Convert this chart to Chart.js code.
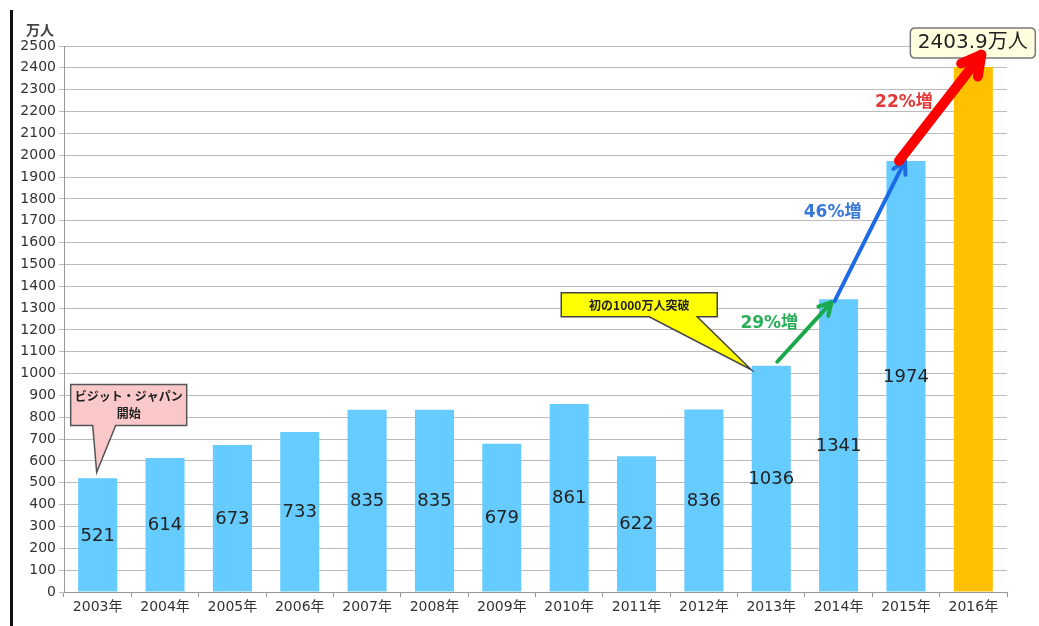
<!DOCTYPE html>
<html><head><meta charset="utf-8">
<script src="https://cdn.jsdelivr.net/npm/chart.js@4.4.0/dist/chart.umd.min.js"></script>
<style>
html,body{margin:0;padding:0;background:#fff;}
#wrap{position:relative;width:1039px;height:626px;}
#bar{position:absolute;left:10px;top:10px;width:3px;height:616px;background:#111;}
canvas{position:absolute;left:0;top:0;}
</style></head>
<body><div id="wrap"><div id="bar"></div><canvas id="c" width="1039" height="626"></canvas></div>
<script>
const categories = ['2003年','2004年','2005年','2006年','2007年','2008年','2009年','2010年','2011年','2012年','2013年','2014年','2015年','2016年'];
const visitors = [521,614,673,733,835,835,679,861,622,836,1036,1341,1974,2403.9];
const barColors = ['#66CCFF','#66CCFF','#66CCFF','#66CCFF','#66CCFF','#66CCFF','#66CCFF','#66CCFF','#66CCFF','#66CCFF','#66CCFF','#66CCFF','#66CCFF','#FFC000'];
const growthLabels = ['29%増','46%増','22%増'];
const unitLabel = '万人';
const totalLabel = '2403.9万人';
const callout1 = ['ビジット・ジャパン','開始'];
const callout2 = '初の1000万人突破';

const FONT = '"Noto Sans CJK JP", "Noto Sans", sans-serif';
const NUMFONT = '"DejaVu Sans", "Noto Sans CJK JP", sans-serif';

function arrow(ctx, x1, y1, x2, y2, color, w, head) {
  const a = Math.atan2(y2 - y1, x2 - x1);
  ctx.save();
  ctx.strokeStyle = color; ctx.lineWidth = w; ctx.lineCap = 'round'; ctx.lineJoin='round';
  ctx.beginPath(); ctx.moveTo(x1, y1); ctx.lineTo(x2, y2); ctx.stroke();
  ctx.beginPath();
  ctx.moveTo(x2 - head * Math.cos(a - 0.5), y2 - head * Math.sin(a - 0.5));
  ctx.lineTo(x2, y2);
  ctx.lineTo(x2 - head * Math.cos(a + 0.5), y2 - head * Math.sin(a + 0.5));
  ctx.stroke();
  ctx.restore();
}
function roundRect(ctx,x,y,w,h,r){ctx.beginPath();ctx.moveTo(x+r,y);ctx.lineTo(x+w-r,y);ctx.quadraticCurveTo(x+w,y,x+w,y+r);ctx.lineTo(x+w,y+h-r);ctx.quadraticCurveTo(x+w,y+h,x+w-r,y+h);ctx.lineTo(x+r,y+h);ctx.quadraticCurveTo(x,y+h,x,y+h-r);ctx.lineTo(x,y+r);ctx.quadraticCurveTo(x,y,x+r,y);ctx.closePath();}

const overlay = {
  id: 'overlay',
  afterDatasetsDraw(chart) {
    const ctx = chart.ctx;
    const bars = chart.getDatasetMeta(0).data;
    const ys = chart.scales.y;
    // value labels
    ctx.save();
    ctx.font = '18px ' + NUMFONT; ctx.fillStyle = '#222'; ctx.textAlign = 'center'; ctx.textBaseline = 'middle';
    for (let i = 0; i < visitors.length - 1; i++) {
      const b = bars[i];
      ctx.fillText(String(visitors[i]), b.x, (b.y + b.base) / 2 + 1);
    }
    ctx.restore();
    // unit label
    ctx.save();
    ctx.font = 'bold 14px ' + FONT; ctx.fillStyle = '#444'; ctx.textAlign='center'; ctx.textBaseline='middle';
    ctx.fillText(unitLabel, chart.chartArea.left - 24, ys.top - 16);
    ctx.restore();

    const b13 = bars[10], b14 = bars[11], b15 = bars[12], b16 = bars[13];
    // arrows
    arrow(ctx, b13.x + 6, b13.y - 4, b14.x - 7, b14.y + 3, '#19A84A', 4, 14);
    arrow(ctx, b14.x - 4, b14.y + 2, b15.x - 1, b15.y, '#1E6BE6', 4, 14);
    // growth labels
    ctx.save();
    ctx.font = 'bold 17px ' + NUMFONT; ctx.textAlign = 'center'; ctx.textBaseline = 'middle';
    ctx.fillStyle = '#2BAE5A'; ctx.fillText(growthLabels[0], b13.x - 2, ys.getPixelForValue(1230));
    ctx.fillStyle = '#3A78D8'; ctx.fillText(growthLabels[1], b14.x - 6, ys.getPixelForValue(1735));
    ctx.fillStyle = '#E53A3A'; ctx.fillText(growthLabels[2], b15.x - 2, ys.getPixelForValue(2240));
    ctx.restore();
    // total box
    ctx.save();
    const bx = b16.x - 63, by = ys.getPixelForValue(2582), bw = 125, bh = 30;
    roundRect(ctx, bx, by, bw, bh, 5);
    ctx.fillStyle = '#FFFFE0'; ctx.fill(); ctx.strokeStyle = '#777'; ctx.lineWidth = 1.5; ctx.stroke();
    ctx.font = '20px ' + NUMFONT; ctx.fillStyle = '#222'; ctx.textAlign = 'center'; ctx.textBaseline = 'middle';
    ctx.fillText(totalLabel, bx + bw / 2, by + bh / 2);
    ctx.restore();
    // red arrow over box
    arrow(ctx, b15.x - 7, b15.y, b16.x + 8, ys.getPixelForValue(2460), '#FF0000', 10, 22);

    // callout 1 (pink)
    ctx.save();
    const b03 = bars[0];
    const tipX = b03.x - 1, tipY = b03.y - 6;
    const c1x = b03.x - 27, c1y = ys.getPixelForValue(950), c1w = 116, c1h = 41;
    ctx.beginPath();
    ctx.moveTo(c1x, c1y); ctx.lineTo(c1x + c1w, c1y); ctx.lineTo(c1x + c1w, c1y + c1h);
    ctx.lineTo(b03.x + 18, c1y + c1h); ctx.lineTo(tipX, tipY); ctx.lineTo(b03.x - 5, c1y + c1h);
    ctx.lineTo(c1x, c1y + c1h); ctx.closePath();
    ctx.fillStyle = '#FAC8C8'; ctx.fill(); ctx.strokeStyle = '#555'; ctx.lineWidth = 1.5; ctx.stroke();
    ctx.font = 'bold 12px ' + FONT; ctx.fillStyle = '#222'; ctx.textAlign = 'center'; ctx.textBaseline = 'middle';
    ctx.fillText(callout1[0], c1x + c1w / 2, c1y + 12);
    ctx.fillText(callout1[1], c1x + c1w / 2, c1y + 29);
    ctx.restore();

    // callout 2 (yellow)
    ctx.save();
    const t2x = b13.x - 20, t2y = b13.y + 4;
    const c2x = b13.x - 210, c2y = ys.getPixelForValue(1370), c2w = 156, c2h = 24;
    ctx.beginPath();
    ctx.moveTo(c2x, c2y); ctx.lineTo(c2x + c2w, c2y); ctx.lineTo(c2x + c2w, c2y + c2h);
    ctx.lineTo(c2x + c2w - 20, c2y + c2h); ctx.lineTo(t2x, t2y); ctx.lineTo(c2x + c2w - 68, c2y + c2h);
    ctx.lineTo(c2x, c2y + c2h); ctx.closePath();
    ctx.fillStyle = '#FFFF00'; ctx.fill(); ctx.strokeStyle = '#444'; ctx.lineWidth = 1.5; ctx.stroke();
    ctx.font = 'bold 12px ' + FONT; ctx.fillStyle = '#222'; ctx.textAlign = 'center'; ctx.textBaseline = 'middle';
    ctx.fillText(callout2, c2x + c2w / 2, c2y + c2h / 2 + 1);
    ctx.restore();
  }
};

new Chart(document.getElementById('c'), {
  type: 'bar',
  data: { labels: categories, datasets: [{ data: visitors, backgroundColor: barColors, borderWidth: 0, categoryPercentage: 0.58, barPercentage: 1 }] },
  options: {
    responsive: false, animation: false,
    layout: { padding: { left: 14, top: 46, right: 32, bottom: 6 } },
    plugins: { legend: { display: false }, tooltip: { enabled: false } },
    scales: {
      x: {
        grid: { drawOnChartArea: false, drawTicks: true, tickLength: 5, color: '#999', offset: true },
        border: { color: '#999' },
        ticks: { color: '#333', font: { size: 14, family: NUMFONT }, padding: 2, maxRotation: 0, autoSkip: false },
        afterFit(a) { a.height = 28; }
      },
      y: {
        min: 0, max: 2500,
        grid: { color: '#BBBBBB', tickLength: 5, lineWidth: 1 },
        border: { color: '#999' },
        ticks: { stepSize: 100, color: '#333', font: { size: 14, family: NUMFONT }, padding: 3, autoSkip: false,
                 callback: (v) => String(v) },
        afterFit(a) { a.width = 50; }
      }
    }
  },
  plugins: [overlay]
});
</script></body></html>
